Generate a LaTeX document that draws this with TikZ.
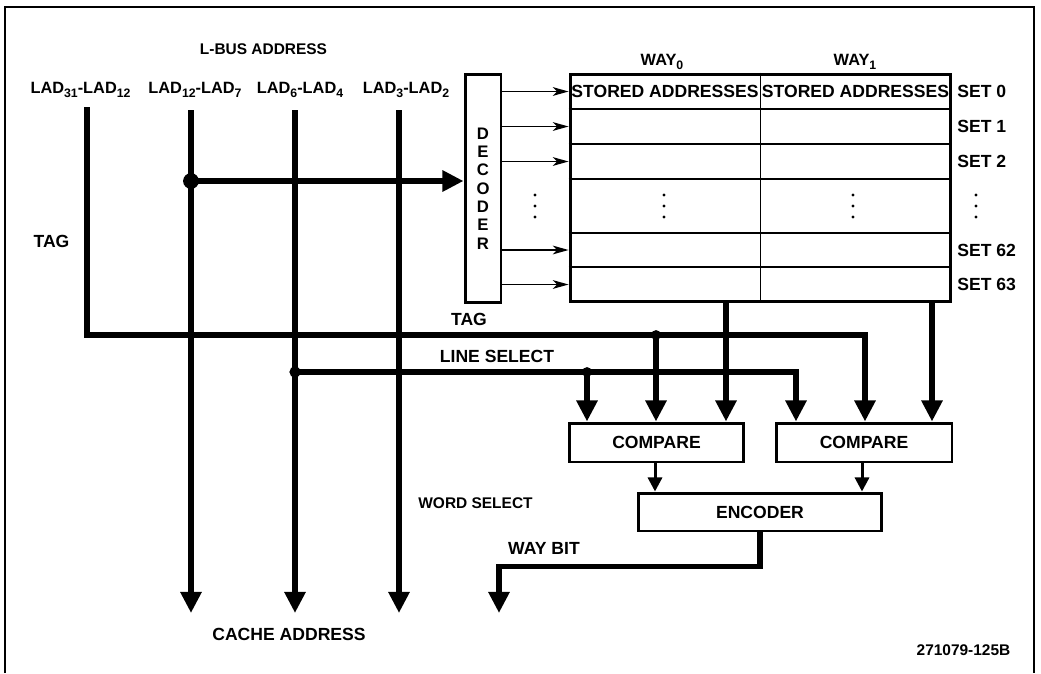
\documentclass[tikz,border=0pt]{standalone}
\usepackage{fontspec}
\setmainfont{Liberation Sans}
\usetikzlibrary{arrows.meta, calc}

\newcommand{\lowsub}[1]{\raisebox{-2.6pt}{\fontsize{7}{8}\selectfont #1}}

\tikzset{
  lbl/.style={font=\bfseries\fontsize{10}{12}\selectfont, inner sep=0pt},
  lblsmall/.style={font=\bfseries\fontsize{8.8}{10}\selectfont, inner sep=0pt},
  lad/.style={font=\bfseries\fontsize{9.3}{11}\selectfont, inner sep=0pt, anchor=base},
  blockbox/.style={draw, line width=1.7pt, inner sep=0pt, font=\bfseries\fontsize{10}{12}\selectfont},
  bus/.style={line width=3.4pt},
  busarrow/.style={bus, -{Triangle[length=12pt, width=11.5pt]}},
  cmparrow/.style={line width=1.7pt, -{Triangle[length=8pt, width=8pt]}},
  setarrow/.style={line width=0.9pt, -{Stealth[length=9pt, width=5pt, inset=2.5pt]}},
  cellline/.style={line width=1pt}
}

\begin{document}
\begin{tikzpicture}[x=0.02cm, y=-0.02cm]
  \useasboundingbox (0,0) rectangle (1041,673);
  % frame
  \draw[line width=1.1pt] (5,673) -- (5,7) -- (1034,7) -- (1034,673);

  % address labels
  \node[lblsmall] (lbus) at (263.5,49) {L-BUS ADDRESS};
  \node[lad] (lad1) at (80.5,93) {LAD\lowsub{31}-LAD\lowsub{12}};
  \node[lad] (lad2) at (195,93) {LAD\lowsub{12}-LAD\lowsub{7}};
  \node[lad] (lad3) at (300,93) {LAD\lowsub{6}-LAD\lowsub{4}};
  \node[lad] (lad4) at (406,93) {LAD\lowsub{3}-LAD\lowsub{2}};

  % decoder and cache array
  \node[blockbox, align=center, font=\bfseries\fontsize{9.5}{10.4}\selectfont,
        minimum width=0.72cm, minimum height=4.58cm] (decoder) at (483,188.5)
        {D\\E\\C\\O\\D\\E\\R};
  \node[draw, line width=1.7pt, inner sep=0pt, minimum width=7.62cm,
        minimum height=4.56cm] (array) at (760.5,188) {};
  \foreach \y in {109,144,179,233,267}
    \draw[cellline] (array.west |- 0,\y) -- (array.east |- 0,\y);
  \draw[cellline] (array.north) -- (array.south);
  \node[lad] (way0) at (662,65) {WAY\lowsub{0}};
  \node[lad] (way1) at (855,65) {WAY\lowsub{1}};
  \node[lbl] (stored0) at (665,91.5) {STORED ADDRESSES};
  \node[lbl] (stored1) at (855.5,91.5) {STORED ADDRESSES};
  \foreach \y/\s in {91.5/0, 126.5/1, 161.5/2, 250/62, 284.5/63} {
    \node[lbl, anchor=west] (set\s) at (957,\y) {SET \s};
    \draw[setarrow] (decoder.east |- 0,\y) -- (array.west |- 0,\y);
  }
  \foreach \x in {535,664,853,976}
    \foreach \y in {195,206,217}
      \fill (\x,\y) circle (0.9pt);

  % compare and encoder
  \node[blockbox, minimum width=3.5cm, minimum height=0.78cm] (cmp1) at (656.5,442.5) {COMPARE};
  \node[blockbox, minimum width=3.52cm, minimum height=0.78cm] (cmp2) at (864,442.5) {COMPARE};
  \node[blockbox, minimum width=4.88cm, minimum height=0.76cm] (encoder) at (760,512) {ENCODER};

  % bus lines
  \coordinate (b1top) at (87,107);
  \foreach \n/\x in {2/191, 3/295, 4/399} {
    \coordinate (b\n top) at (\x,110);
    \coordinate (b\n end) at (\x,613);
    \draw[busarrow] (b\n top) -- (b\n end);
  }
  \coordinate (decdot) at (191,181);
  \fill (decdot) circle (4.5pt);
  \draw[busarrow] (decdot) -- (decdot -| decoder.west);

  % tag
  \coordinate (tagturn) at (865,335);
  \coordinate (tagdot) at (656,335);
  \draw[busarrow] (b1top) |- (tagturn) -- (cmp2.north -| tagturn);
  \fill (tagdot) circle (2.8pt);
  \draw[busarrow] (tagdot) -- (cmp1.north -| tagdot);

  % line select
  \coordinate (lsdot) at (295,372);
  \coordinate (lsturn) at (796,372);
  \coordinate (lsdot2) at (587,372);
  \fill (lsdot) circle (3.2pt);
  \draw[busarrow] (lsdot) -- (lsturn) -- (cmp2.north -| lsturn);
  \fill (lsdot2) circle (2.8pt);
  \draw[busarrow] (lsdot2) -- (cmp1.north -| lsdot2);

  % stored addresses out
  \draw[busarrow] (array.south -| 726,0) -- (cmp1.north -| 726,0);
  \draw[busarrow] (array.south -| 932,0) -- (cmp2.north -| 932,0);
  \draw[cmparrow] (cmp1.south -| 655,0) -- (encoder.north -| 655,0);
  \draw[cmparrow] (cmp2.south -| 862,0) -- (encoder.north -| 862,0);

  % way bit
  \coordinate (waytip) at (499,613);
  \draw[busarrow] (encoder.south) -- ++(0,34) -| (waytip);

  \node[lbl] (tagleft) at (51.5,241.5) {TAG};
  \node[lbl] (tagright) at (469,319.5) {TAG};
  \node[lbl] (linesel) at (497,356.5) {LINE SELECT};
  \node[lblsmall] (wordsel) at (475.5,503) {WORD SELECT};
  \node[lbl] (waybit) at (544,548.5) {WAY BIT};
  \node[lbl] (cacheaddr) at (289,634.5) {CACHE ADDRESS};
  \node[lblsmall] (figno) at (963.5,650) {271079-125B};
\end{tikzpicture}
\end{document}
